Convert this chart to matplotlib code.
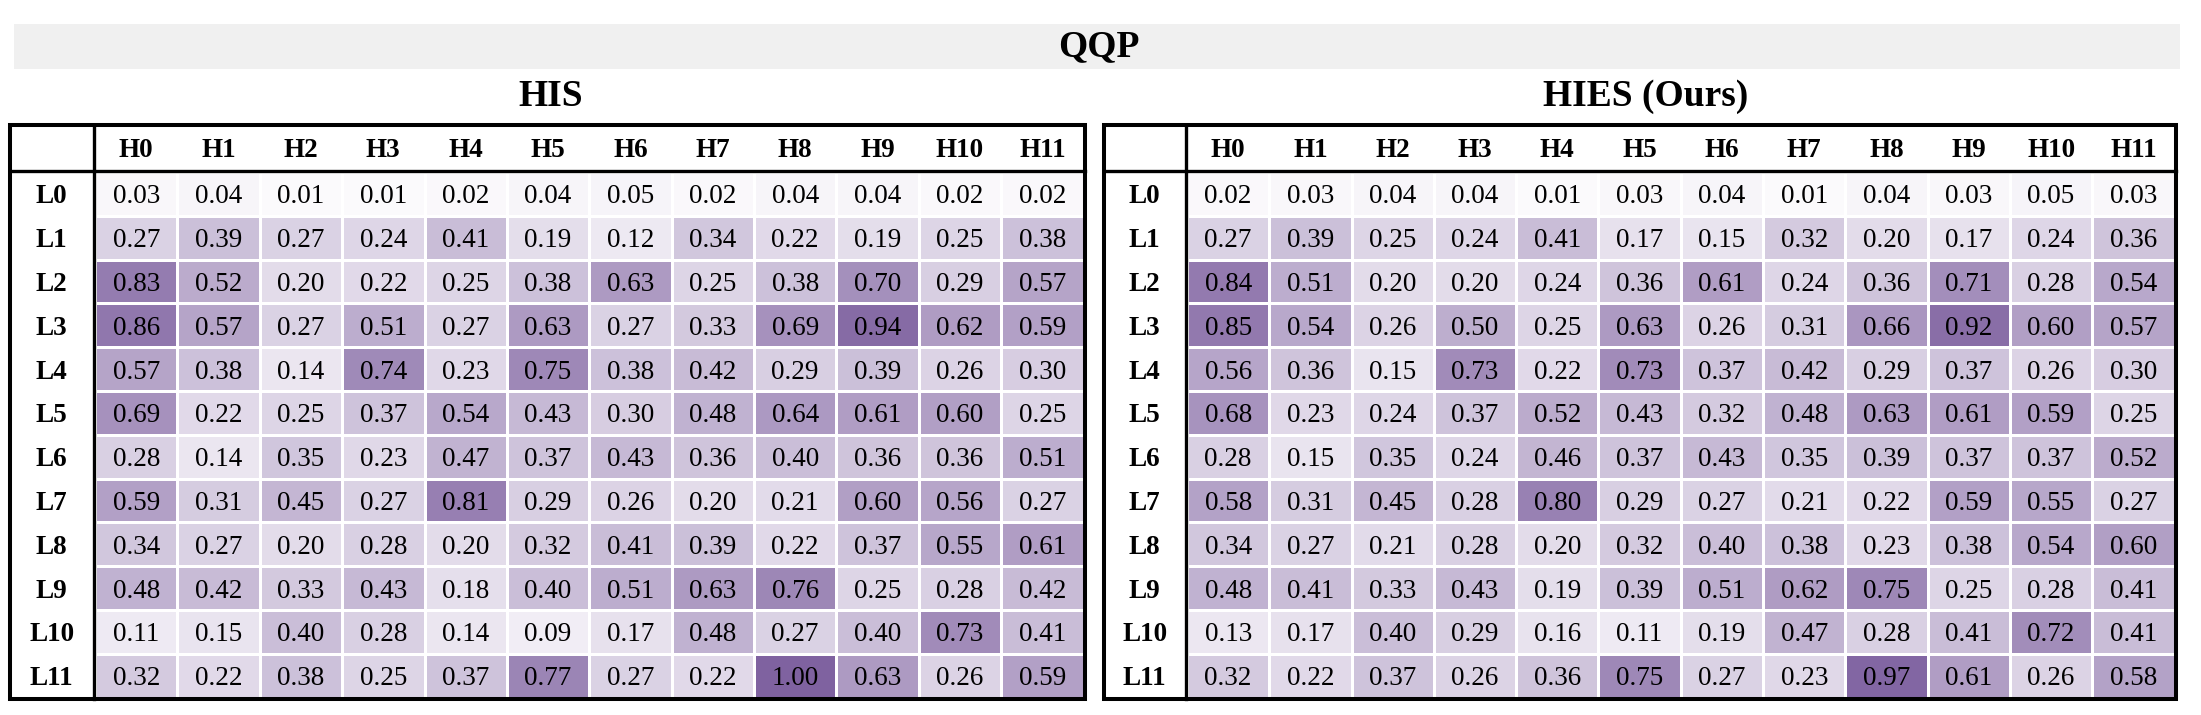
import matplotlib
matplotlib.use("Agg")
import matplotlib.pyplot as plt
import numpy as np
from matplotlib.colors import LinearSegmentedColormap
from matplotlib.patches import Rectangle
from matplotlib.lines import Line2D

plt.rcParams['font.family'] = ['Liberation Serif', 'DejaVu Serif']

dataset_title = "QQP"
panel_titles = ["HIS", "HIES (Ours)"]
col_labels = [f"H{i}" for i in range(12)]
row_labels = [f"L{i}" for i in range(12)]

his = [
    [0.03, 0.04, 0.01, 0.01, 0.02, 0.04, 0.05, 0.02, 0.04, 0.04, 0.02, 0.02],
    [0.27, 0.39, 0.27, 0.24, 0.41, 0.19, 0.12, 0.34, 0.22, 0.19, 0.25, 0.38],
    [0.83, 0.52, 0.20, 0.22, 0.25, 0.38, 0.63, 0.25, 0.38, 0.70, 0.29, 0.57],
    [0.86, 0.57, 0.27, 0.51, 0.27, 0.63, 0.27, 0.33, 0.69, 0.94, 0.62, 0.59],
    [0.57, 0.38, 0.14, 0.74, 0.23, 0.75, 0.38, 0.42, 0.29, 0.39, 0.26, 0.30],
    [0.69, 0.22, 0.25, 0.37, 0.54, 0.43, 0.30, 0.48, 0.64, 0.61, 0.60, 0.25],
    [0.28, 0.14, 0.35, 0.23, 0.47, 0.37, 0.43, 0.36, 0.40, 0.36, 0.36, 0.51],
    [0.59, 0.31, 0.45, 0.27, 0.81, 0.29, 0.26, 0.20, 0.21, 0.60, 0.56, 0.27],
    [0.34, 0.27, 0.20, 0.28, 0.20, 0.32, 0.41, 0.39, 0.22, 0.37, 0.55, 0.61],
    [0.48, 0.42, 0.33, 0.43, 0.18, 0.40, 0.51, 0.63, 0.76, 0.25, 0.28, 0.42],
    [0.11, 0.15, 0.40, 0.28, 0.14, 0.09, 0.17, 0.48, 0.27, 0.40, 0.73, 0.41],
    [0.32, 0.22, 0.38, 0.25, 0.37, 0.77, 0.27, 0.22, 1.00, 0.63, 0.26, 0.59],
]

hies = [
    [0.02, 0.03, 0.04, 0.04, 0.01, 0.03, 0.04, 0.01, 0.04, 0.03, 0.05, 0.03],
    [0.27, 0.39, 0.25, 0.24, 0.41, 0.17, 0.15, 0.32, 0.20, 0.17, 0.24, 0.36],
    [0.84, 0.51, 0.20, 0.20, 0.24, 0.36, 0.61, 0.24, 0.36, 0.71, 0.28, 0.54],
    [0.85, 0.54, 0.26, 0.50, 0.25, 0.63, 0.26, 0.31, 0.66, 0.92, 0.60, 0.57],
    [0.56, 0.36, 0.15, 0.73, 0.22, 0.73, 0.37, 0.42, 0.29, 0.37, 0.26, 0.30],
    [0.68, 0.23, 0.24, 0.37, 0.52, 0.43, 0.32, 0.48, 0.63, 0.61, 0.59, 0.25],
    [0.28, 0.15, 0.35, 0.24, 0.46, 0.37, 0.43, 0.35, 0.39, 0.37, 0.37, 0.52],
    [0.58, 0.31, 0.45, 0.28, 0.80, 0.29, 0.27, 0.21, 0.22, 0.59, 0.55, 0.27],
    [0.34, 0.27, 0.21, 0.28, 0.20, 0.32, 0.40, 0.38, 0.23, 0.38, 0.54, 0.60],
    [0.48, 0.41, 0.33, 0.43, 0.19, 0.39, 0.51, 0.62, 0.75, 0.25, 0.28, 0.41],
    [0.13, 0.17, 0.40, 0.29, 0.16, 0.11, 0.19, 0.47, 0.28, 0.41, 0.72, 0.41],
    [0.32, 0.22, 0.37, 0.26, 0.36, 0.75, 0.27, 0.23, 0.97, 0.61, 0.26, 0.58],
]

W, H = 2201, 715
fig = plt.figure(figsize=(W / 100, H / 100), dpi=100)
fig.patch.set_facecolor("white")

cmap = LinearSegmentedColormap.from_list("soft_purples", ["#fcfbfd", "#7f62a0"])


def fx(x):
    return x / W


def fy(y):
    return 1 - y / H


# banner
fig.add_artist(Rectangle((fx(14), fy(69)), fx(2180) - fx(14), fy(24) - fy(69),
                         transform=fig.transFigure, facecolor="#f0f0f0",
                         edgecolor="none", zorder=0))
fig.text(fx(1099), fy(47), dataset_title, ha="center", va="center",
         fontsize=27, fontweight="bold")

# table geometry in pixels: outer left, label divider, outer right, title x
tables = [
    dict(data=his, title=panel_titles[0], left=10, div=93.5, right=1085, tx=551),
    dict(data=hies, title=panel_titles[1], left=1104, div=1185.5, right=2176, tx=1646),
]
top, hdr, bottom = 125, 170.5, 699
border_lw = 2.9

for t in tables:
    d = np.array(t["data"])
    x0 = t["div"] + 1.5
    x1 = t["right"] - 1.5
    y0 = hdr + 1.5
    y1 = bottom - 1.5
    ax = fig.add_axes([fx(x0), fy(y1), fx(x1) - fx(x0), fy(y0) - fy(y1)])
    ax.pcolormesh(np.arange(13), np.arange(13), d, cmap=cmap, vmin=0, vmax=1,
                  edgecolors="white", linewidth=2.0)
    ax.set_xlim(0, 12)
    ax.set_ylim(12, 0)
    ax.axis("off")
    colw = (x1 - x0) / 12
    rowh = (y1 - y0) / 12
    for i in range(12):
        for j in range(12):
            ax.text(j + 0.5, i + 0.5, f"{d[i, j]:.2f}", ha="center",
                    va="center_baseline", fontsize=19.5, color="black")
    hdr_c = ((top + hdr) / 2 - y0) / rowh
    for j, lab in enumerate(col_labels):
        ax.text(j + 0.5, hdr_c, lab, ha="center", va="center_baseline",
                fontsize=19.5, fontweight="bold", clip_on=False)
    lab_c = ((t["left"] + t["div"]) / 2 - x0) / colw
    for i, lab in enumerate(row_labels):
        ax.text(lab_c, i + 0.5, lab, ha="center", va="center_baseline",
                fontsize=19.5, fontweight="bold", clip_on=False)

    # borders
    fig.add_artist(Rectangle((fx(t["left"]), fy(bottom)),
                             fx(t["right"]) - fx(t["left"]), fy(top) - fy(bottom),
                             transform=fig.transFigure, fill=False,
                             edgecolor="black", linewidth=border_lw, zorder=5))
    fig.add_artist(Line2D([fx(t["left"]), fx(t["right"])], [fy(hdr), fy(hdr)],
                          transform=fig.transFigure, color="black",
                          linewidth=2.4, zorder=5))
    fig.add_artist(Line2D([fx(t["div"]), fx(t["div"])], [fy(top), fy(bottom)],
                          transform=fig.transFigure, color="black",
                          linewidth=2.4, zorder=5))
    fig.text(fx(t["tx"]), fy(96), t["title"], ha="center", va="center",
             fontsize=27, fontweight="bold")

fig.savefig("out.png", dpi=100, facecolor="white")
